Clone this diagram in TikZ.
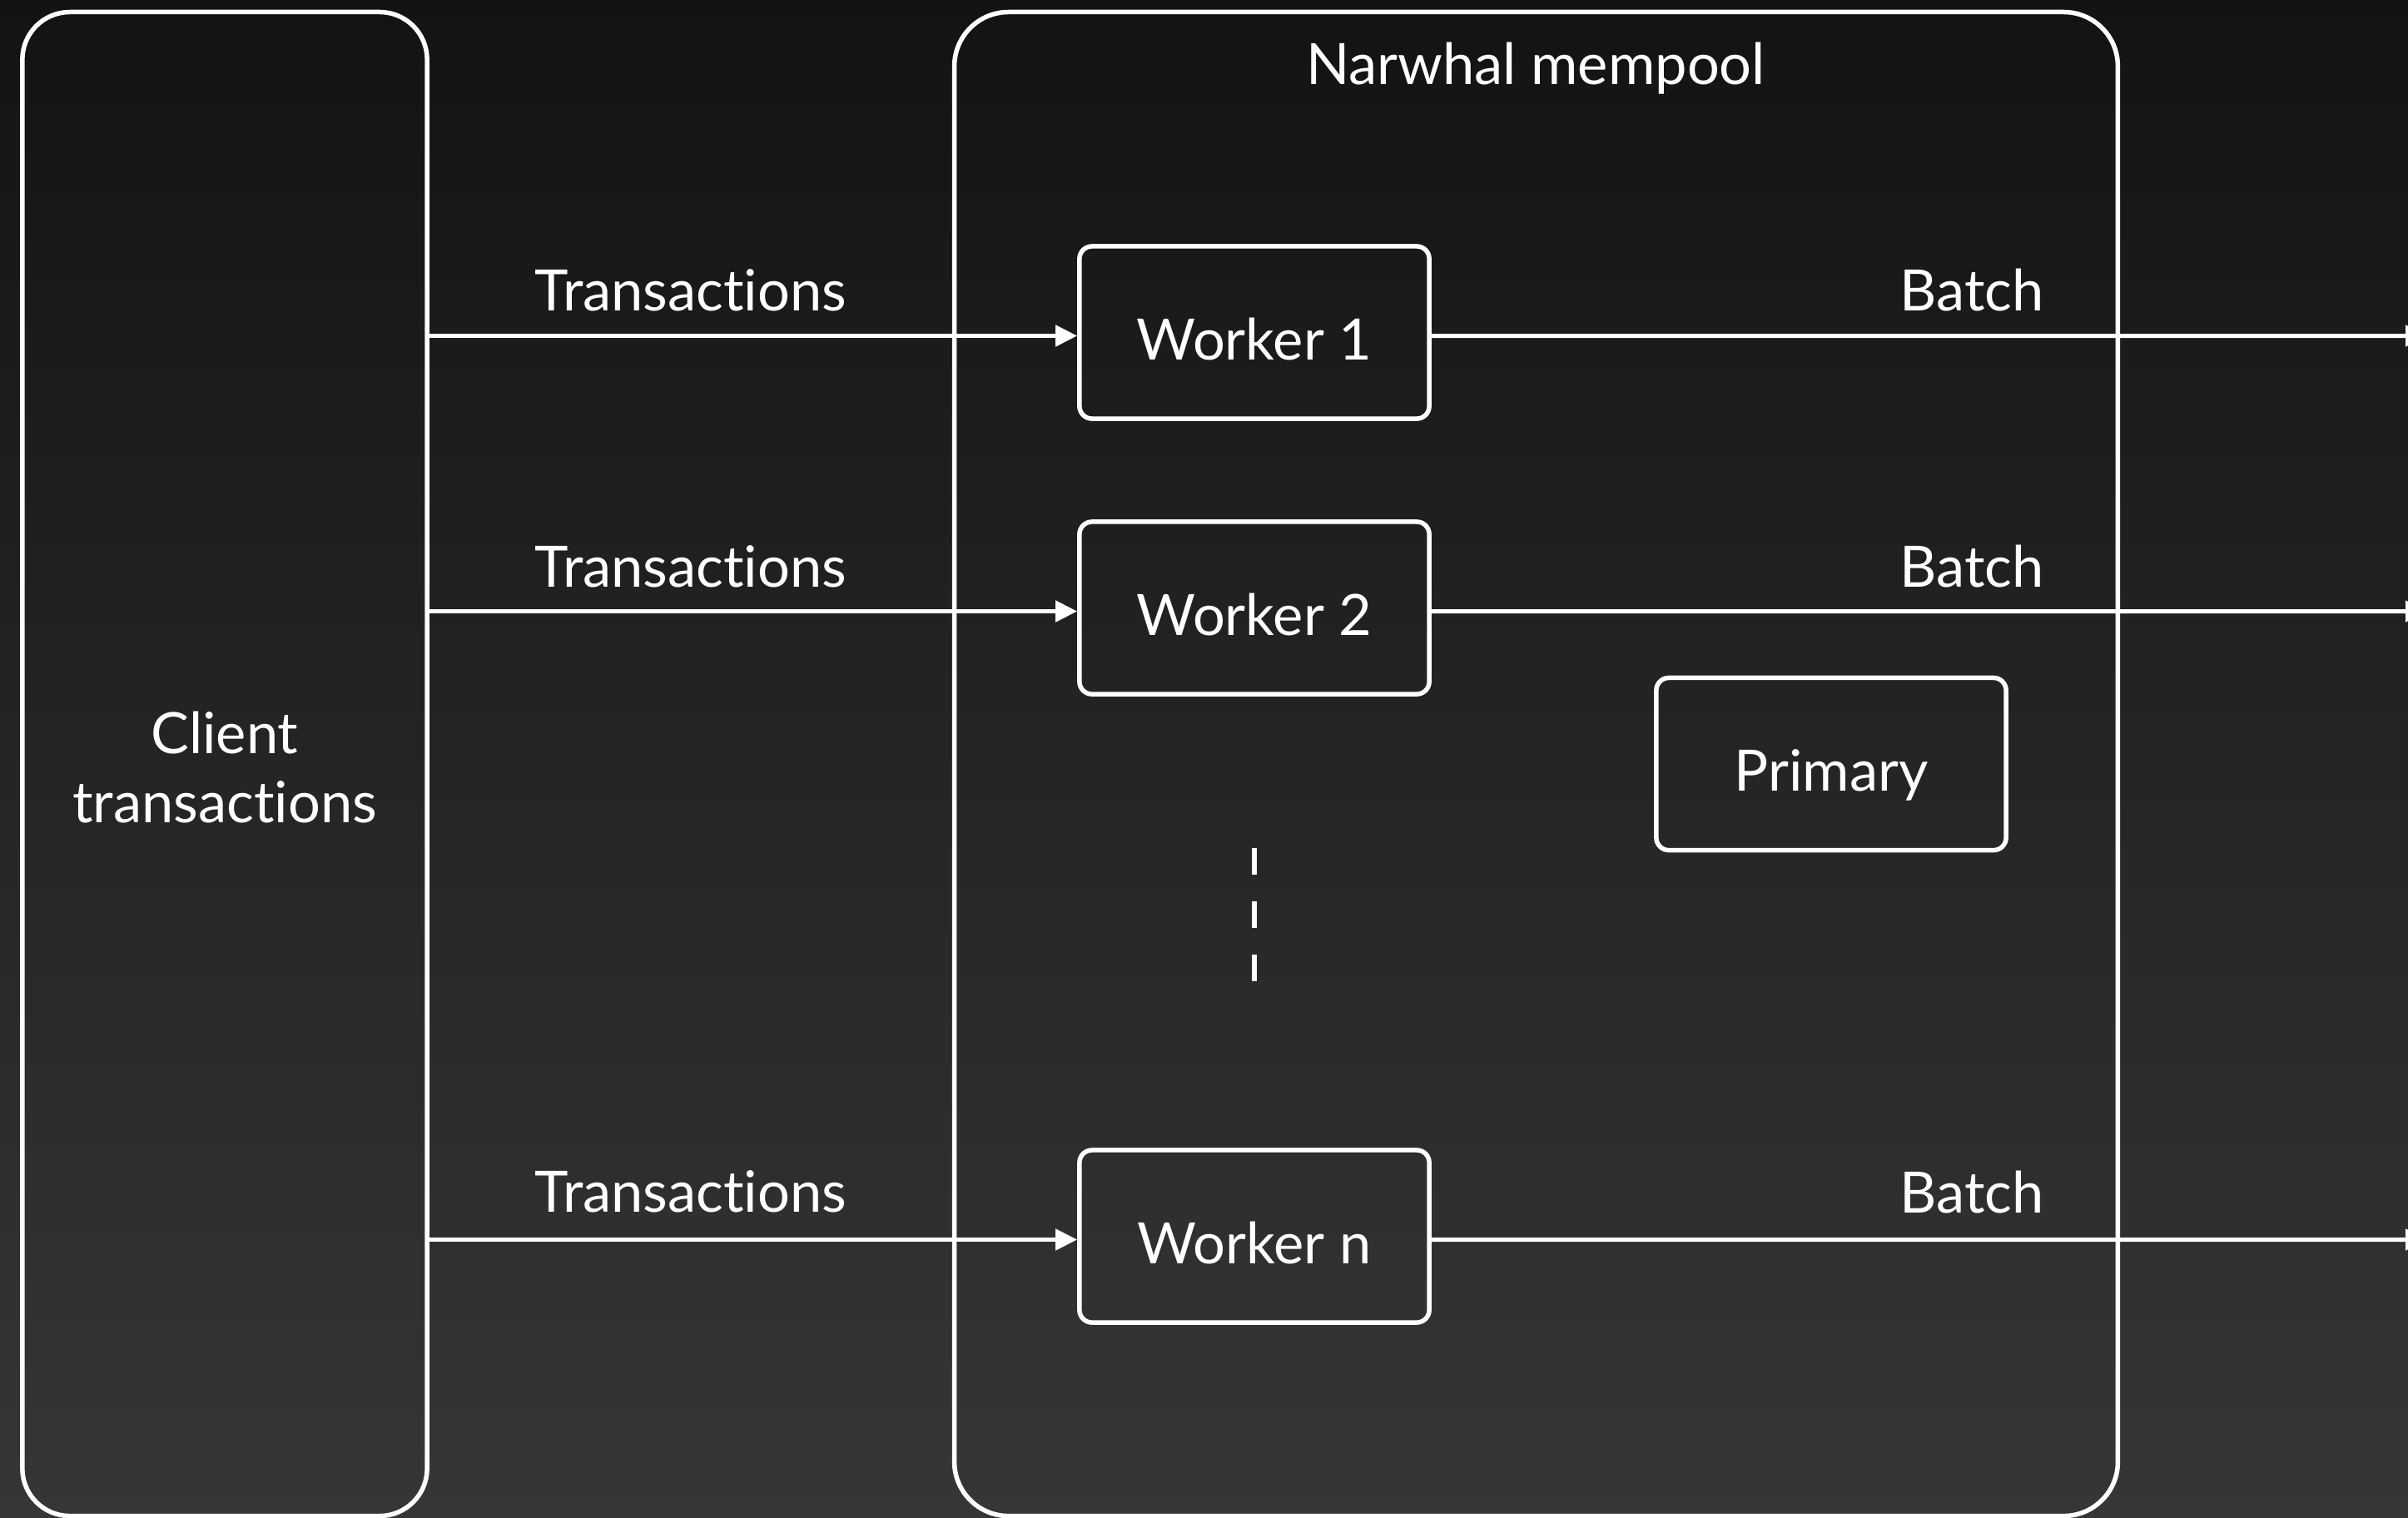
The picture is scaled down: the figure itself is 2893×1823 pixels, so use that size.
\documentclass[tikz,border=0pt]{standalone}
\usepackage{fontspec}
\setmainfont[Ligatures=NoCommon]{Lato}
\usetikzlibrary{arrows.meta}
\definecolor{bgtop}{HTML}{131313}
\definecolor{bgbot}{HTML}{363636}
\begin{document}
\begin{tikzpicture}[x=0.01cm,y=-0.01cm,
  txt/.style={text=white, font=\fontsize{19.5}{23.5}\selectfont},
  frame/.style={draw=white, line width=0.055cm, inner sep=0pt, txt},
  worker/.style={frame, rounded corners=0.15cm, minimum width=4.2cm, minimum height=2.07cm,
    text height=0.65cm, text depth=0cm},
  lbl/.style={txt, inner sep=0pt},
  flow/.style={draw=white, line width=0.05cm, -{Triangle[length=0.26cm,width=0.25cm]}},
  dots/.style={draw=white, line width=0.055cm, dash pattern=on 0.32cm off 0.32cm}]

  % canvas and background gradient
  \useasboundingbox (0,0) rectangle (2893,1823);
  \clip (0,0) rectangle (2893,1823);
  \shade[top color=bgtop, bottom color=bgbot] (0,0) rectangle (2893,1823);

  % outer containers
  \node[frame, rounded corners=0.57cm, minimum width=4.86cm, minimum height=18.06cm]
    (client) at (270,918) {};
  \node[lbl, align=center] (clientlbl) at (270,922) {Client\\transactions};
  \node[frame, rounded corners=0.65cm, minimum width=13.97cm, minimum height=18.06cm]
    (mempool) at (1845.5,918) {};
  \node[lbl] (title) at (1845,82) {Narwhal mempool};

  % workers and primary
  \node[worker] (w1) at (1507,399.5) {Worker 1};
  \node[worker] (w2) at (1507,730.5) {Worker 2};
  \node[worker] (wn) at (1507,1485.5) {Worker n};
  \node[worker] (primary) at (2200,918) {Primary};

  % ellipsis between worker 2 and worker n
  \coordinate (dtop) at (1507,1019);
  \coordinate (dbot) at (1507,1179);
  \draw[dots] (dtop) -- (dbot);

  % transactions in
  \draw[flow] ([yshift=-0.04cm]w1.west -| client.east) -- ([yshift=-0.04cm]w1.west);
  \draw[flow] ([yshift=-0.04cm]w2.west -| client.east) -- ([yshift=-0.04cm]w2.west);
  \draw[flow] ([yshift=-0.04cm]wn.west -| client.east) -- ([yshift=-0.04cm]wn.west);
  \node[lbl] (t1) at (830,349) {Transactions};
  \node[lbl] (t2) at (830,681) {Transactions};
  \node[lbl] (tn) at (830,1432) {Transactions};

  % batches out
  \coordinate (o1) at (2916,403.5);
  \coordinate (o2) at (2916,734.5);
  \coordinate (on) at (2916,1489.5);
  \draw[flow] ([yshift=-0.04cm]w1.east) -- (o1);
  \draw[flow] ([yshift=-0.04cm]w2.east) -- (o2);
  \draw[flow] ([yshift=-0.04cm]wn.east) -- (on);
  \node[lbl] (b1) at (2369,349) {Batch};
  \node[lbl] (b2) at (2369,681) {Batch};
  \node[lbl] (bn) at (2369,1432) {Batch};
\end{tikzpicture}
\end{document}
